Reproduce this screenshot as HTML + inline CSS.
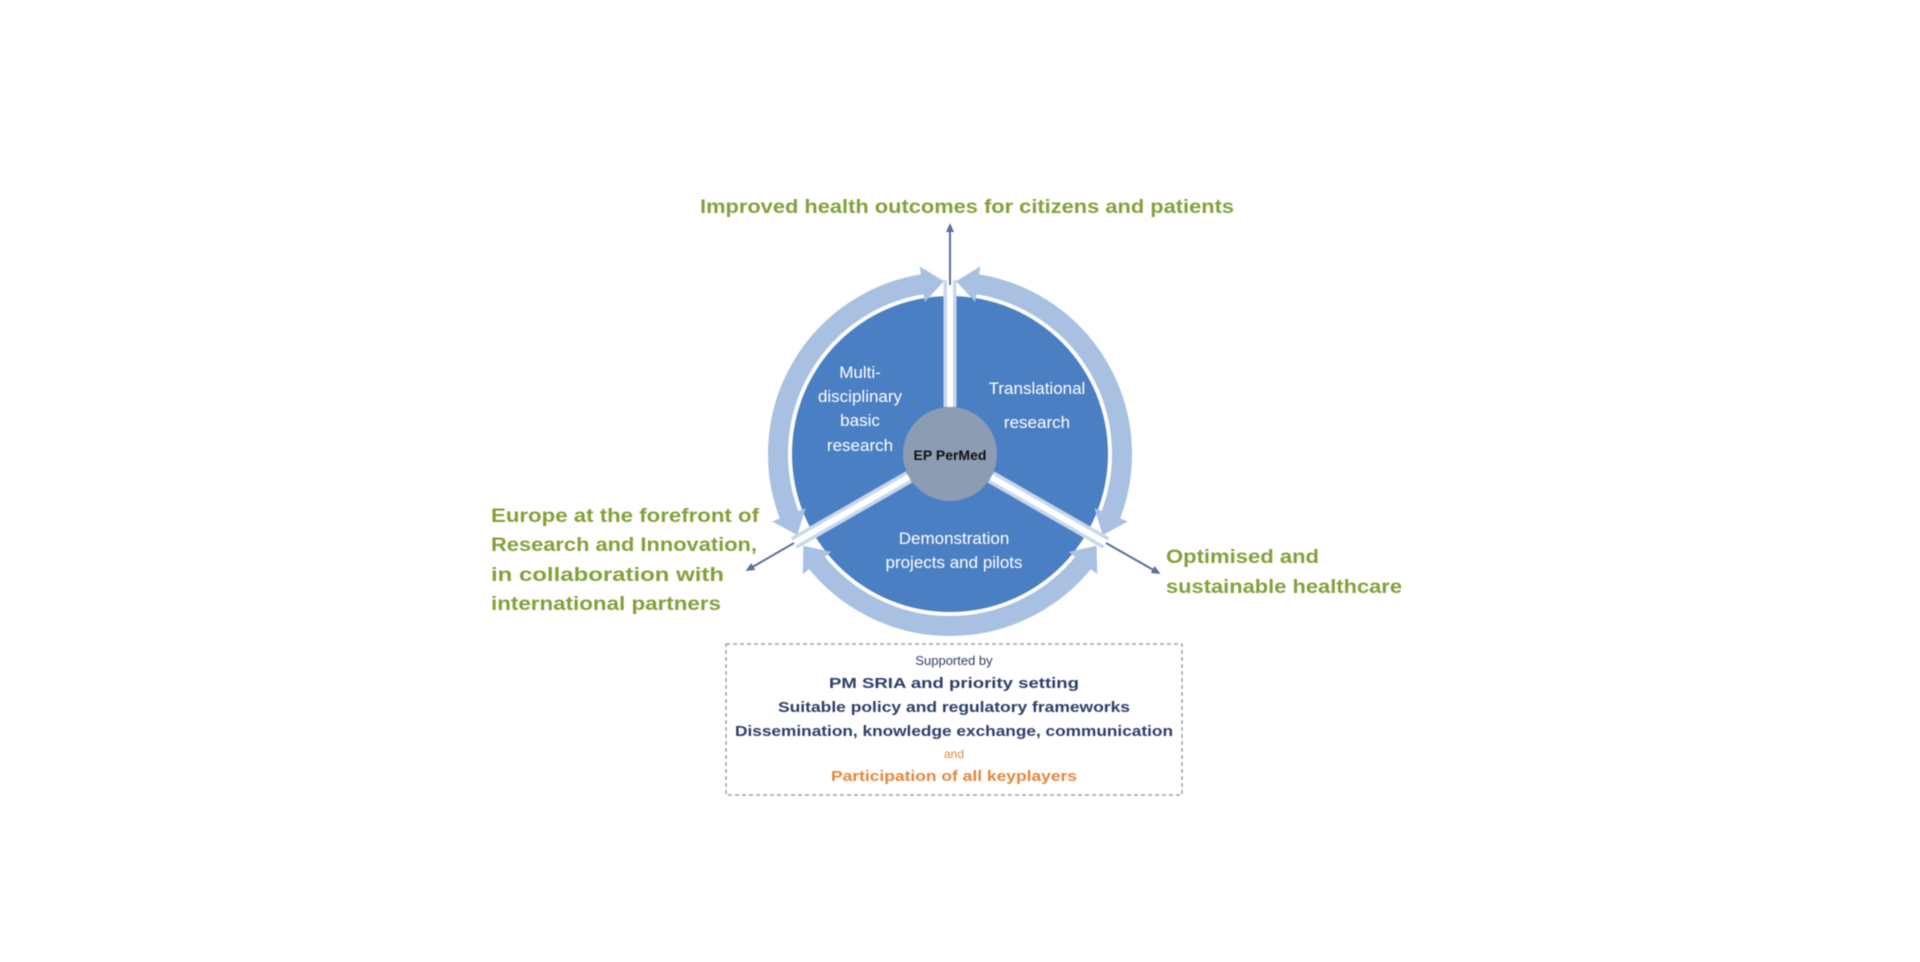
<!DOCTYPE html>
<html><head><meta charset="utf-8"><style>
html,body{margin:0;padding:0;background:#fff;}
svg{display:block;filter:blur(0.5px);}
text{font-family:"Liberation Sans",sans-serif;}
</style></head><body>
<svg width="1920" height="962" viewBox="0 0 1920 962" xmlns="http://www.w3.org/2000/svg">
<defs>
<marker id="ah" markerUnits="userSpaceOnUse" markerWidth="30" markerHeight="36" refX="4" refY="18" orient="auto-start-reverse">
<path d="M0,0 L22,18 L0,36 z" fill="#a8c0e2"/>
</marker>
<marker id="sa" markerUnits="userSpaceOnUse" markerWidth="10" markerHeight="10" refX="5" refY="5" orient="auto">
<path d="M0,1 L9,5 L0,9 z" fill="#5a6f9a"/>
</marker>
</defs>
<rect width="1920" height="962" fill="#fff"/>
<g transform="translate(-6,-5)">
<circle cx="956" cy="459" r="158" fill="#4b7fc3"/>
<g fill="none" stroke="#a8c0e2" stroke-width="20" marker-start="url(#ah)" marker-end="url(#ah)">
<path d="M 979.9 288.7 A 172 172 0 0 1 1115.5 523.4"/>
<path d="M 1091.5 564.9 A 172 172 0 0 1 820.5 564.9"/>
<path d="M 796.5 523.4 A 172 172 0 0 1 932.1 288.7"/>
</g>
<g stroke-linecap="butt">
<line x1="956" y1="412" x2="956" y2="285" stroke="#c9d7ec" stroke-width="13"/>
<line x1="956" y1="412" x2="956" y2="285" stroke="#fff" stroke-width="6"/>
<line x1="915" y1="482" x2="800" y2="548" stroke="#c9d7ec" stroke-width="13"/>
<line x1="915" y1="482" x2="800" y2="548" stroke="#fff" stroke-width="6"/>
<line x1="997" y1="482" x2="1112" y2="548" stroke="#c9d7ec" stroke-width="13"/>
<line x1="997" y1="482" x2="1112" y2="548" stroke="#fff" stroke-width="6"/>
</g>
<g stroke="#5a6f9a" stroke-width="2" marker-end="url(#sa)">
<line x1="956" y1="290" x2="956" y2="232"/>
<line x1="800" y1="548" x2="755" y2="574"/>
<line x1="1112" y1="548" x2="1163" y2="577"/>
</g>
<circle cx="956" cy="459" r="47" fill="#8c9cb2"/>
<text x="956" y="465" text-anchor="middle" font-size="14" font-weight="bold" fill="#111">EP PerMed</text>
<g fill="#fff" font-size="17" text-anchor="middle">
<text x="866" y="383">Multi-</text>
<text x="866" y="407">disciplinary</text>
<text x="866" y="431">basic</text>
<text x="866" y="456">research</text>
<text x="1043" y="399">Translational</text>
<text x="1043" y="433">research</text>
<text x="960" y="549">Demonstration</text>
<text x="960" y="573">projects and pilots</text>
</g>
<g fill="#84a03a" font-size="19" font-weight="bold">
<text x="706" y="218" textLength="534" lengthAdjust="spacingAndGlyphs">Improved health outcomes for citizens and patients</text>
<text x="497" y="527" textLength="268" lengthAdjust="spacingAndGlyphs">Europe at the forefront of</text>
<text x="497" y="556" textLength="266" lengthAdjust="spacingAndGlyphs">Research and Innovation,</text>
<text x="497" y="586" textLength="233" lengthAdjust="spacingAndGlyphs">in collaboration with</text>
<text x="497" y="615" textLength="230" lengthAdjust="spacingAndGlyphs">international partners</text>
<text x="1172" y="568" textLength="153" lengthAdjust="spacingAndGlyphs">Optimised and</text>
<text x="1172" y="598" textLength="236" lengthAdjust="spacingAndGlyphs">sustainable healthcare</text>
</g>
<rect x="732" y="649" width="456" height="151" fill="none" stroke="#9aa3b5" stroke-width="1.5" stroke-dasharray="4,3"/>
<g text-anchor="middle">
<text x="960" y="670" font-size="13" fill="#2d3e6b">Supported by</text>
<text x="960" y="693" font-size="15" font-weight="bold" fill="#2d3e6b" textLength="250" lengthAdjust="spacingAndGlyphs">PM SRIA and priority setting</text>
<text x="960" y="717" font-size="15" font-weight="bold" fill="#2d3e6b" textLength="352" lengthAdjust="spacingAndGlyphs">Suitable policy and regulatory frameworks</text>
<text x="960" y="741" font-size="15" font-weight="bold" fill="#2d3e6b" textLength="438" lengthAdjust="spacingAndGlyphs">Dissemination, knowledge exchange, communication</text>
<text x="960" y="763" font-size="12" fill="#e8863a">and</text>
<text x="960" y="786" font-size="15" font-weight="bold" fill="#e8863a" textLength="246" lengthAdjust="spacingAndGlyphs">Participation of all keyplayers</text>
</g>
</g>
</svg>
</body></html>
